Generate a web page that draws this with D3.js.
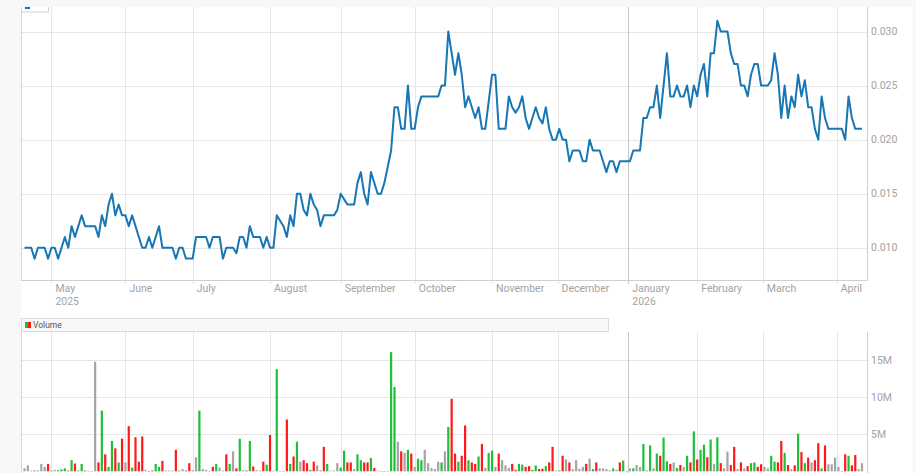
<!DOCTYPE html>
<html><head><meta charset="utf-8">
<script src="https://cdn.jsdelivr.net/npm/d3@7"></script>
<style>
html,body{margin:0;padding:0;background:#f8f8f8;}
svg{display:block;font-family:Roboto,"Liberation Sans",Arial,sans-serif;}
</style></head><body>
<svg id="c" width="916" height="473"></svg>
<script>
const prices = [
.010,.010,.010,.009,.010,.010,.010,.009,.010,.010,
.009,.010,.011,.010,.012,.011,.012,.013,.012,.012,
.012,.012,.011,.013,.012,.014,.015,.013,.014,.013,
.013,.012,.013,.012,.011,.010,.010,.011,.010,.011,
.012,.010,.010,.010,.010,.009,.010,.010,.009,.009,
.009,.011,.011,.011,.011,.010,.011,.011,.011,.009,
.010,.010,.010,.0095,.011,.011,.010,.012,.011,.011,
.011,.010,.011,.010,.010,.013,.0125,.012,.011,.013,
.012,.015,.015,.0135,.013,.015,.014,.0135,.012,.013,
.013,.013,.013,.0135,.015,.0145,.014,.014,.014,.016,
.017,.015,.014,.017,.016,.015,.015,.016,.0175,.019,
.023,.023,.021,.021,.025,.021,.021,.023,.024,.024,
.024,.024,.024,.024,.025,.025,.030,.028,.026,.028,
.026,.023,.024,.023,.022,.023,.021,.021,.0235,.026,
.026,.021,.021,.021,.024,.023,.0225,.023,.024,.022,
.021,.022,.023,.022,.0215,.023,.021,.020,.020,.021,
.020,.020,.018,.019,.019,.019,.018,.018,.020,.019,
.019,.019,.018,.017,.018,.018,.017,.018,.018,.018,
.018,.019,.019,.019,.022,.022,.023,.023,.025,.022,
.025,.028,.024,.024,.025,.024,.024,.025,.023,.025,
.024,.026,.027,.024,.028,.028,.031,.030,.030,.030,
.028,.027,.027,.025,.025,.024,.026,.027,.027,.025,
.025,.025,.0255,.028,.026,.022,.025,.022,.024,.023,
.026,.024,.0255,.023,.023,.021,.020,.024,.022,.021,
.021,.021,.021,.021,.020,.024,.022,.021,.021,.021
];
// volume in millions
const volumes = [
0.4,0.8,0.1,0.1,0.1,1.0,0.6,1.0,0.1,0.2,
0.15,0.25,0.4,0.1,1.5,1.05,0.1,1.0,0.1,0.05,
0.05,14.8,1.2,8.2,2.3,0.6,4.1,3.1,1.2,4.4,
1.2,6.1,0.5,4.6,1.3,4.7,0.2,0.05,0.1,1.0,
0.6,1.4,0.1,0.1,0.1,2.9,0.1,0.3,0.1,1.1,
0.15,1.9,8.2,0.3,0.2,0.05,0.6,1.0,0.5,0.1,
2.3,1.0,2.7,0.4,4.4,0.15,0.1,4.1,0.65,0.15,
0.1,1.3,0.9,4.9,0.1,13.8,0.05,0.05,7.0,1.0,
2.0,4.0,1.3,1.5,1.1,0.2,1.3,0.8,0.1,3.3,
1.0,0.1,0.1,1.1,0.5,2.8,1.2,1.2,0.3,2.3,
1.5,1.2,1.2,1.8,0.45,0.1,0.05,0.05,0.05,16.1,
11.4,4.0,2.7,2.5,2.9,2.4,0.6,1.7,1.5,2.9,
1.1,0.45,0.3,1.3,1.2,2.7,6.0,9.8,2.4,1.3,
2.1,6.2,1.5,1.2,1.0,2.0,3.7,0.45,2.5,2.8,
0.6,2.4,1.5,0.8,0.45,1.0,0.2,1.0,0.9,0.6,
0.7,0.2,0.8,0.3,0.35,0.7,1.2,3.3,0.1,0.1,
2.1,1.6,1.2,0.3,1.5,0.35,0.6,1.0,1.7,0.3,
1.2,0.4,0.4,0.3,0.15,0.4,0.2,1.2,1.45,0.05,
0.4,0.4,0.85,0.6,3.7,0.15,3.5,0.4,2.4,2.1,
4.55,1.35,1.0,1.2,0.45,0.85,0.6,2.1,1.2,5.4,
1.6,2.9,3.6,1.9,4.3,1.0,4.6,1.1,0.4,2.65,
0.85,3.3,0.3,1.2,0.4,0.7,1.1,1.2,0.6,0.95,
0.6,0.4,2.1,1.3,1.2,4.1,2.5,0.85,0.3,0.8,
5.1,2.6,1.1,1.85,1.2,1.5,3.8,0.4,3.5,0.95,
0.95,1.85,0.6,0.05,2.3,2.1,0.8,2.2,0.3,1.1
];
// u = up (green), d = down (red), n = unchanged (gray)
const volDir = [
"n","n","n","d","u","n","n","d","u","n",
"u","u","u","d","u","d","u","u","d","n",
"n","n","d","u","d","u","u","d","u","d",
"n","d","u","d","d","d","n","u","d","u",
"u","d","n","n","n","d","u","n","d","d",
"n","n","u","n","n","n","d","u","n","n",
"d","u","n","d","u","n","d","u","d","n",
"n","d","u","d","n","u","n","n","d","u",
"d","u","n","d","d","u","d","n","d","d",
"u","n","n","n","u","u","d","d","n","u",
"u","d","d","u","d","n","n","n","n","u",
"u","n","d","n","u","d","n","u","u","n",
"n","n","n","n","u","n","u","d","d","u",
"d","d","u","d","d","u","d","n","u","u",
"n","d","n","n","n","d","d","u","u","d",
"d","u","u","d","d","u","d","d","n","u",
"d","n","d","n","n","n","n","d","n","u",
"d","n","n","n","n","u","n","d","u","n",
"n","u","n","n","u","n","u","n","u","d",
"u","u","d","n","u","d","n","u","d","u",
"d","u","u","d","u","n","u","d","n","n",
"d","d","n","d","n","d","u","u","d","d",
"n","n","u","u","d","d","u","d","n","d",
"u","d","u","d","n","d","d","u","d","n",
"n","n","n","n","d","u","d","d","n","n"
];
const monthTicks = [8,30,50,73,94,116,139,158.5,179.5,200,219.5,241.5];
const monthLabels = ["May","June","July","August","September","October","November","December","January","February","March","April"];
const yearLabels = ["2025","","","","","","","","2026","","",""];
const yearBoundary = 8; // index in monthTicks of the year change
const priceTicks = [0.010,0.015,0.020,0.025,0.030];
const volTicks = [5,10,15];
const volTickLabels = ["5M","10M","15M"];

const svg = d3.select("#c");
const L = 21, R = 867, PT = 7, PB = 280, VT = 332, VB = 473;
const gridC = "#e6e6e6", axisC = "#cfcfcf", textC = "#a3a3a3";

const x = d3.scaleLinear().domain([0, prices.length - 1]).range([24.5, 862]);
const y = d3.scaleLinear().domain([0.010, 0.030]).range([247.8, 31.5]);
const yv = d3.scaleLinear().domain([0, 15]).range([471.3, 360.3]);

// white panel
svg.append("rect").attr("x", L).attr("y", PT).attr("width", 912 - L).attr("height", VB - PT).attr("fill", "#fff");

// ---- price panel ----
const gp = svg.append("g");
gp.selectAll("line.hg").data(priceTicks).join("line")
  .attr("x1", L).attr("x2", R).attr("y1", d => Math.round(y(d)) + 0.5).attr("y2", d => Math.round(y(d)) + 0.5)
  .attr("stroke", gridC);
gp.selectAll("line.vg").data(monthTicks).join("line")
  .attr("x1", d => Math.round(x(d)) + 0.5).attr("x2", d => Math.round(x(d)) + 0.5)
  .attr("y1", PT).attr("y2", PB + 4)
  .attr("stroke", (d, i) => i === yearBoundary ? "#c6c6c6" : gridC);
// borders
gp.append("line").attr("x1", L + 0.5).attr("x2", L + 0.5).attr("y1", PT).attr("y2", PB).attr("stroke", "#d6d6d6");
gp.append("line").attr("x1", L).attr("x2", R + 0.5).attr("y1", PB + 0.5).attr("y2", PB + 0.5).attr("stroke", axisC);
gp.append("line").attr("x1", R + 0.5).attr("x2", R + 0.5).attr("y1", PT).attr("y2", PB).attr("stroke", axisC);

// y labels
gp.selectAll("text.yl").data(priceTicks).join("text")
  .attr("x", R + 4).attr("y", d => y(d)).attr("dy", "0.35em")
  .attr("font-size", 10.5).attr("fill", textC).text(d => d3.format(".3f")(d));

// month labels
gp.selectAll("text.ml").data(monthTicks).join("text")
  .attr("x", d => x(d) + 4).attr("y", 292)
  .attr("font-size", 10.5).attr("fill", textC).text((d, i) => monthLabels[i]);
gp.selectAll("text.yr").data(monthTicks).join("text")
  .attr("x", d => x(d) + 4).attr("y", 304.5)
  .attr("font-size", 10.5).attr("fill", textC).text((d, i) => yearLabels[i]);

// price line
gp.append("path").datum(prices)
  .attr("fill", "none").attr("stroke", "#1777b4").attr("stroke-width", 2)
  .attr("stroke-linejoin", "round")
  .attr("d", d3.line().x((d, i) => x(i)).y(d => y(d)));

// tiny legend box at top
gp.append("rect").attr("x", L + 0.5).attr("y", PT - 2).attr("width", 27).attr("height", 7)
  .attr("fill", "#fff").attr("stroke", "#d0d0d0");
gp.append("rect").attr("x", 25).attr("y", PT).attr("width", 5).attr("height", 2).attr("fill", "#1777b4");
svg.append("rect").attr("x", 0).attr("y", 0).attr("width", 916).attr("height", PT).attr("fill", "#f8f8f8");

// ---- volume panel ----
const gv = svg.append("g");
gv.append("rect").attr("x", L + 0.5).attr("y", 318.5).attr("width", 587).attr("height", 13)
  .attr("fill", "#f7f7f7").attr("stroke", "#dcdcdc");
gv.append("rect").attr("x", 25).attr("y", 322).attr("width", 3).attr("height", 6).attr("fill", "#1fbf3a");
gv.append("rect").attr("x", 28).attr("y", 322).attr("width", 3).attr("height", 6).attr("fill", "#ff1a1a");
gv.append("text").attr("x", 33).attr("y", 327.5).attr("font-size", 8.5).attr("fill", "#555").text("Volume");

gv.selectAll("line.hv").data(volTicks).join("line")
  .attr("x1", L).attr("x2", R).attr("y1", d => Math.round(yv(d)) + 0.5).attr("y2", d => Math.round(yv(d)) + 0.5)
  .attr("stroke", gridC);
gv.selectAll("line.vv").data(monthTicks).join("line")
  .attr("x1", d => Math.round(x(d)) + 0.5).attr("x2", d => Math.round(x(d)) + 0.5)
  .attr("y1", VT).attr("y2", VB)
  .attr("stroke", (d, i) => i === yearBoundary ? "#c6c6c6" : gridC);
gv.append("line").attr("x1", L + 0.5).attr("x2", L + 0.5).attr("y1", VT).attr("y2", VB).attr("stroke", "#d6d6d6");
gv.append("line").attr("x1", R + 0.5).attr("x2", R + 0.5).attr("y1", VT).attr("y2", VB).attr("stroke", axisC);
gv.selectAll("text.vl").data(volTicks).join("text")
  .attr("x", R + 4).attr("y", d => yv(d)).attr("dy", "0.35em")
  .attr("font-size", 10.5).attr("fill", textC).text((d, i) => volTickLabels[i]);

const colorOf = { u: "#1fbf3a", d: "#ff1a1a", n: "#a4a4a4" };
const bw = 2.2;
gv.selectAll("rect.bar").data(volumes).join("rect")
  .attr("x", (d, i) => x(i) - bw / 2).attr("width", bw)
  .attr("y", d => yv(d)).attr("height", d => Math.max(0.6, yv(0) - yv(d)))
  .attr("fill", (d, i) => colorOf[volDir[i]]);

// right outer strip
svg.append("rect").attr("x", 912).attr("y", 0).attr("width", 4).attr("height", 473).attr("fill", "#f8f8f8");
</script>
</body></html>
